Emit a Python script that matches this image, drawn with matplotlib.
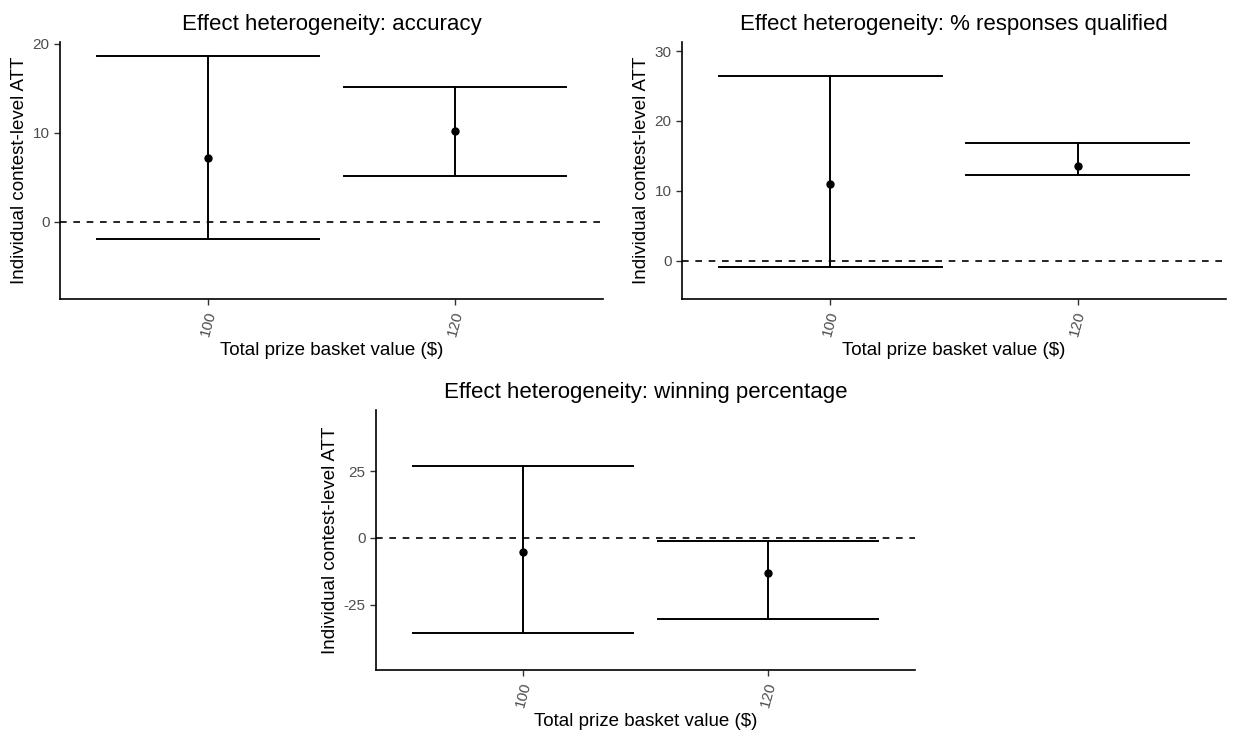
import matplotlib.pyplot as plt

plt.rcParams['font.family'] = ['Liberation Sans', 'DejaVu Sans']

categories = ['100', '120']

acc_est = [7.2, 10.2]
acc_low = [-1.9, 5.15]
acc_high = [18.6, 15.1]

qual_est = [10.9, 13.5]
qual_low = [-0.95, 12.3]
qual_high = [26.5, 16.8]

win_est = [-5.4, -13.3]
win_low = [-35.8, -30.3]
win_high = [26.9, -1.3]

panels = [
    ('Effect heterogeneity: accuracy', acc_est, acc_low, acc_high,
     (-8.7, 20.2), [0, 10, 20], [60, 42, 603, 299]),
    ('Effect heterogeneity: % responses qualified', qual_est, qual_low, qual_high,
     (-5.5, 31.3), [0, 10, 20, 30], [682, 42, 1226, 299]),
    ('Effect heterogeneity: winning percentage', win_est, win_low, win_high,
     (-49.5, 47.9), [-25, 0, 25], [376, 410, 915, 670]),
]

W, H = 1233, 733
fig = plt.figure(figsize=(W / 100, H / 100), dpi=100)

grey = '#4D4D4D'
for title, est, low, high, ylim, yticks, box in panels:
    l, t, r, b = box
    ax = fig.add_axes([l / W, 1 - b / H, (r - l) / W, (b - t) / H])
    x = list(range(1, len(categories) + 1))
    for xi, lo, hi in zip(x, low, high):
        ax.plot([xi, xi], [lo, hi], color='black', lw=1.4)
        ax.plot([xi - 0.45, xi + 0.45], [lo, lo], color='black', lw=1.4)
        ax.plot([xi - 0.45, xi + 0.45], [hi, hi], color='black', lw=1.4)
    ax.plot(x, est, 'o', color='black', markersize=5)
    ax.axhline(0, color='black', lw=1.2, ls=(0, (4, 4)))
    ax.set_xlim(0.4, 2.6)
    ax.set_ylim(*ylim)
    ax.set_xticks(x)
    ax.set_xticklabels(categories, rotation=75, ha='center', va='top')
    ax.set_yticks(yticks, [str(v).replace('-', '-') for v in yticks])
    ax.tick_params(colors=grey, labelsize=11, length=4, width=1)
    ax.tick_params(axis='both', color='#333333')
    for s in ['top', 'right']:
        ax.spines[s].set_visible(False)
    for s in ['left', 'bottom']:
        ax.spines[s].set_linewidth(1.2)
    ax.set_title(title, fontsize=16, pad=9)
    ax.set_xlabel('Total prize basket value ($)', fontsize=13.5, labelpad=3)
    ax.set_ylabel('Individual contest-level ATT', fontsize=13.5, labelpad=3)

fig.savefig('out.png', dpi=100)
